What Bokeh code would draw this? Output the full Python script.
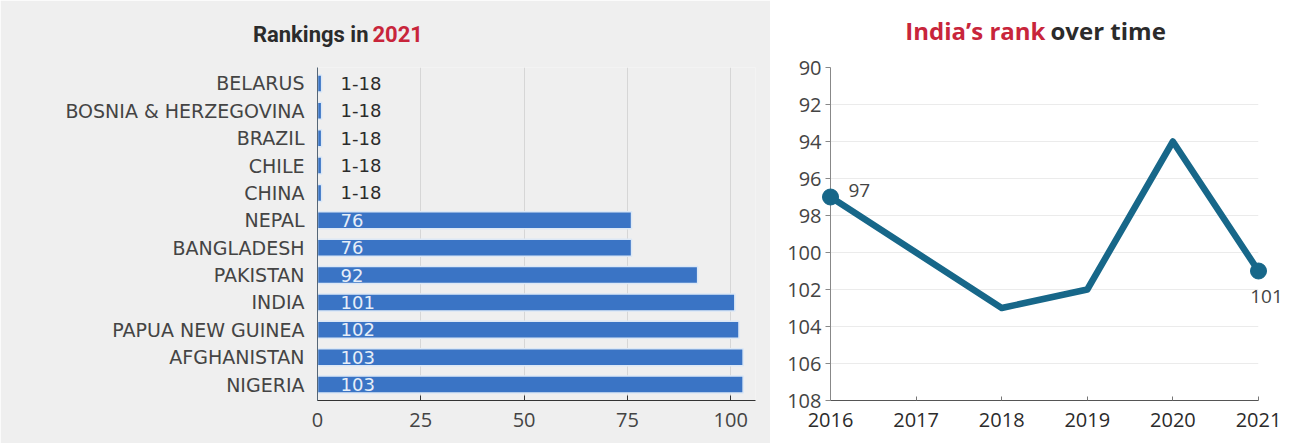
from bokeh.plotting import figure
from bokeh.models import ColumnDataSource, FactorRange, Range1d, FixedTicker
from bokeh.layouts import row
from bokeh.embed import file_html
from bokeh.resources import INLINE
from bokeh.core.properties import value

# ---------------- data ----------------
countries = ["BELARUS", "BOSNIA & HERZEGOVINA", "BRAZIL", "CHILE", "CHINA",
             "NEPAL", "BANGLADESH", "PAKISTAN", "INDIA", "PAPUA NEW GUINEA",
             "AFGHANISTAN", "NIGERIA"]
ranks_2021 = [1, 1, 1, 1, 1, 76, 76, 92, 101, 102, 103, 103]
rank_labels = ["1-18", "1-18", "1-18", "1-18", "1-18",
               "76", "76", "92", "101", "102", "103", "103"]
bar_ticks = [0, 25, 50, 75, 100]

years = [2016, 2017, 2018, 2019, 2020, 2021]
india_rank = [97, 100, 103, 102, 94, 101]
rank_ticks = [90, 92, 94, 96, 98, 100, 102, 104, 106, 108]

LABEL_FONT = "DejaVu Sans"
TICK_FONT = "Open Sans"
TITLE_NARROW = "Roboto"
BAR_BLUE = "#3a74c5"
LINE_BLUE = "#176789"
RED = "#c8253b"
DARK = "#2b2b2b"
GREY_TXT = "#444444"

# ---------------- left: bar chart ----------------
label_colors = [DARK if l == "1-18" else "#e6eef8" for l in rank_labels]
bar_src = ColumnDataSource(dict(country=countries, rank=ranks_2021,
                                label=rank_labels, lcolor=label_colors,
                                zero=[0] * len(countries)))

p1 = figure(width=770, height=443, output_backend="svg", toolbar_location=None,
            y_range=FactorRange(factors=countries[::-1], range_padding=0.014),
            x_range=Range1d(0, 106),
            min_border_left=317, min_border_right=15,
            min_border_top=58, min_border_bottom=43)
p1.background_fill_color = "#efefef"
p1.border_fill_color = "#efefef"
p1.outline_line_color = None

p1.hbar(y="country", left=0, right="rank", height=0.62, source=bar_src,
        fill_color=BAR_BLUE, line_color="#dce8f6", line_width=1.5)
p1.text(x="zero", y="country", text="label", source=bar_src,
        x_offset=23, text_baseline="middle", text_align="left",
        text_color="lcolor", text_font=value(LABEL_FONT),
        text_font_size="18px")

p1.xaxis.ticker = FixedTicker(ticks=bar_ticks)
p1.xaxis.axis_line_color = "#333333"
p1.xaxis.axis_line_width = 1.2
p1.xaxis.major_tick_in = 5
p1.xaxis.major_tick_out = 0
p1.xaxis.major_tick_line_color = "#333333"
p1.xaxis.minor_tick_line_color = None
p1.xaxis.major_label_standoff = 12
p1.xaxis.major_label_text_font = TICK_FONT
p1.xaxis.major_label_text_font_size = "20px"
p1.xaxis.major_label_text_color = GREY_TXT

p1.yaxis.axis_line_color = "#556677"
p1.yaxis.major_tick_line_color = None
p1.yaxis.minor_tick_line_color = None
p1.yaxis.major_label_standoff = 7
p1.yaxis.major_label_text_font = LABEL_FONT
p1.yaxis.major_label_text_font_size = "19px"
p1.yaxis.major_label_text_color = GREY_TXT

p1.xgrid.ticker = FixedTicker(ticks=bar_ticks)
p1.xgrid.grid_line_color = "#d6d6d6"
p1.ygrid.grid_line_color = None

# chart heading, anchored to the top category row and moved up in pixels
t1 = p1.text(x=[0], y=[countries[0]], text=["Rankings in"], x_offset=51,
             y_offset=-49, text_align="right", text_baseline="middle",
             text_color=DARK, text_font=value(TITLE_NARROW),
             text_font_style="bold", text_font_size="22px")
t1.level = "overlay"
t2 = p1.text(x=[0], y=[countries[0]], text=["2021"], x_offset=55,
             y_offset=-49, text_align="left", text_baseline="middle",
             text_color=RED, text_font=value(TITLE_NARROW),
             text_font_style="bold", text_font_size="22px")
t2.level = "overlay"

# ---------------- right: line chart ----------------
line_src = ColumnDataSource(dict(year=years, rank=india_rank))
end_src = ColumnDataSource(dict(year=[years[0], years[-1]],
                                rank=[india_rank[0], india_rank[-1]]))

p2 = figure(width=519, height=443, output_backend="svg", toolbar_location=None,
            x_range=Range1d(years[0], years[-1]),
            y_range=Range1d(rank_ticks[-1], rank_ticks[0]),
            min_border_left=60, min_border_right=31,
            min_border_top=67, min_border_bottom=37)
p2.background_fill_color = "white"
p2.border_fill_color = "white"
p2.outline_line_color = None

r_line = p2.line(x="year", y="rank", source=line_src, line_color=LINE_BLUE,
                 line_width=6.5, line_join="round")
r_line.level = "overlay"
r_pts = p2.scatter(x="year", y="rank", source=end_src, size=16,
                   fill_color=LINE_BLUE, line_color=LINE_BLUE)
r_pts.level = "overlay"

v1 = p2.text(x=[years[0]], y=[india_rank[0]], text=[str(india_rank[0])],
             x_offset=18, y_offset=-7, text_align="left",
             text_baseline="middle", text_color=GREY_TXT,
             text_font=value(TICK_FONT), text_font_size="19px")
v1.level = "overlay"
v2 = p2.text(x=[years[-1]], y=[india_rank[-1]], text=[str(india_rank[-1])],
             x_offset=8, y_offset=25, text_align="center",
             text_baseline="middle", text_color=GREY_TXT,
             text_font=value(TICK_FONT), text_font_size="19px")
v2.level = "overlay"

p2.xaxis.ticker = FixedTicker(ticks=years)
p2.xaxis.axis_line_color = "#555555"
p2.xaxis.major_tick_in = 4
p2.xaxis.major_tick_out = 0
p2.xaxis.major_tick_line_color = "#777777"
p2.xaxis.minor_tick_line_color = None
p2.xaxis.major_label_standoff = 12
p2.xaxis.major_label_text_font = TICK_FONT
p2.xaxis.major_label_text_font_size = "20px"
p2.xaxis.major_label_text_color = DARK

p2.yaxis.ticker = FixedTicker(ticks=rank_ticks)
p2.yaxis.axis_line_color = "#888888"
p2.yaxis.major_tick_in = 0
p2.yaxis.major_tick_out = 5
p2.yaxis.major_tick_line_color = "#888888"
p2.yaxis.minor_tick_line_color = None
p2.yaxis.major_label_standoff = 4
p2.yaxis.major_label_text_font = TICK_FONT
p2.yaxis.major_label_text_font_size = "20px"
p2.yaxis.major_label_text_color = GREY_TXT

p2.ygrid.ticker = FixedTicker(ticks=rank_ticks)
p2.ygrid.grid_line_color = "#ebebeb"
p2.xgrid.grid_line_color = None

h1 = p2.text(x=[years[0]], y=[rank_ticks[0]], text=["India\u2019s rank"],
             x_offset=215, y_offset=-37, text_align="right",
             text_baseline="middle", text_color=RED,
             text_font=value("Open Sans"), text_font_style="bold",
             text_font_size="24px")
h1.level = "overlay"
h2 = p2.text(x=[years[0]], y=[rank_ticks[0]], text=["over time"],
             x_offset=220, y_offset=-37, text_align="left",
             text_baseline="middle", text_color=DARK,
             text_font=value("Open Sans"), text_font_style="bold",
             text_font_size="24px")
h2.level = "overlay"

layout = row(p1, p2, spacing=0)
open("out.html", "w").write(file_html(layout, INLINE))
